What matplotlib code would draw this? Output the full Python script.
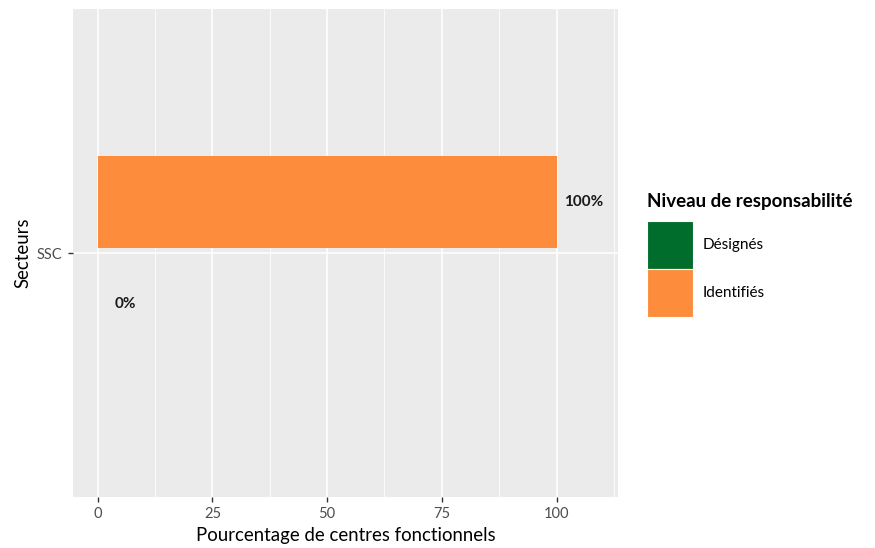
import matplotlib.pyplot as plt
from matplotlib.patches import Patch

# ----------------------------
# Data
# ----------------------------
secteurs = ["SSC"]
niveaux = ["Désignés", "Identifiés"]
pourcentages = {"Désignés": [0], "Identifiés": [100]}
couleurs = {"Désignés": "#006D2C", "Identifiés": "#FD8D3C"}

plt.rcParams['font.family'] = ['Lato', 'DejaVu Sans']

fig = plt.figure(figsize=(8.75, 5.48), dpi=100)
ax = fig.add_axes([0.0834, 0.093, 0.6229, 0.8906])
ax.set_facecolor("#EBEBEB")

# dodged horizontal bars (ggplot style)
bar_h = 0.225
offsets = {"Désignés": -0.125, "Identifiés": 0.125}
for niv in niveaux:
    for i, sec in enumerate(secteurs):
        val = pourcentages[niv][i]
        y = i + offsets[niv]
        ax.barh(y, val, height=bar_h, color=couleurs[niv], zorder=3)
        ax.text(val + 6, y, f"{val}%", ha="center", va="center",
                fontsize=11, fontweight="bold", color="#1a1a1a", zorder=4)

ax.set_xlim(-5.4, 113.4)
ax.set_ylim(-0.6, 0.6)
ax.set_xticks([0, 25, 50, 75, 100])
ax.set_xticks([12.5, 37.5, 62.5, 87.5, 112.5], minor=True)
ax.set_yticks(range(len(secteurs)))
ax.set_yticklabels(secteurs)

ax.grid(which="major", color="white", linewidth=1.1, zorder=0)
ax.grid(which="minor", axis="x", color="white", linewidth=0.55, zorder=0)
ax.set_axisbelow(True)
for s in ax.spines.values():
    s.set_visible(False)
ax.tick_params(axis="both", which="major", length=3.5, width=1.0, color="#333333",
               labelcolor="#4D4D4D", labelsize=10.5, pad=4)
ax.tick_params(axis="both", which="minor", length=0)

ax.set_xlabel("Pourcentage de centres fonctionnels", fontsize=13.4, color="black", labelpad=4)
ax.set_ylabel("Secteurs", fontsize=13.4, color="black", labelpad=4)

# legend (title drawn separately to get the ggplot spacing)
fig.text(0.7394, 0.6314, "Niveau de responsabilité", fontsize=13.5,
         fontweight="bold", va="center", ha="left")
handles = [Patch(facecolor=couleurs[n], edgecolor="white", linewidth=0.8, label=n) for n in niveaux]
leg = fig.legend(handles=handles, loc="upper left", bbox_to_anchor=(0.7394, 0.5967),
                 frameon=False, fontsize=11,
                 handlelength=3.0, handleheight=4.48, labelspacing=0.0,
                 handletextpad=0.65, borderpad=0, borderaxespad=0)

fig.savefig("out.png", dpi=100)
